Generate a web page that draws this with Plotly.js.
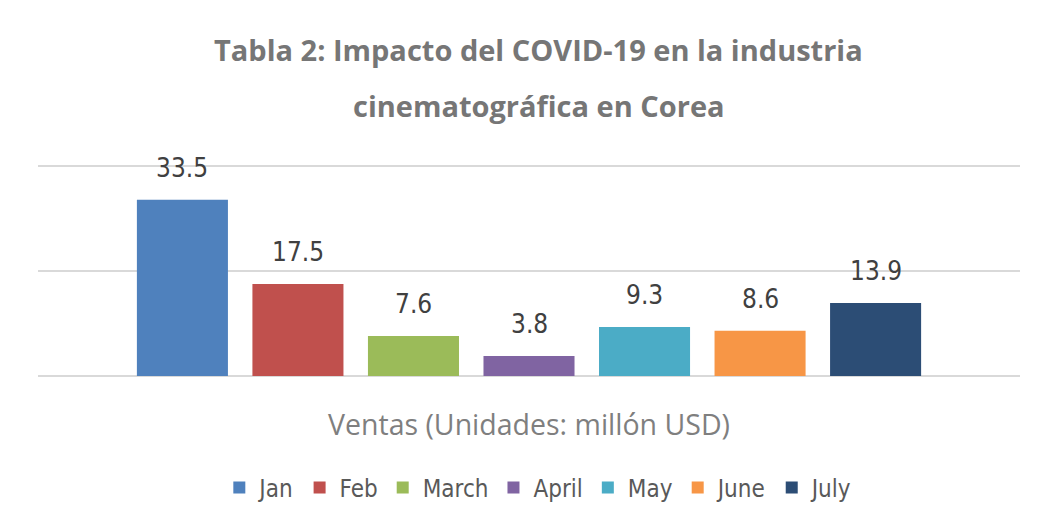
<!DOCTYPE html>
<html>
<head>
<meta charset="utf-8">
<script src="https://cdn.plot.ly/plotly-3.0.1.min.js"></script>
<style>html,body{margin:0;padding:0;background:#fff;}#chart{width:1040px;height:531px;}</style>
</head>
<body>
<div id="chart"></div>
<script>
const months = ['Jan', 'Feb', 'March', 'April', 'May', 'June', 'July'];
const sales = [33.5, 17.5, 7.6, 3.8, 9.3, 8.6, 13.9];
const colors = ['#4F81BD', '#C0504D', '#9BBB59', '#8064A2', '#4BACC6', '#F79646', '#2C4D75'];
const titleLines = ['Tabla 2: Impacto del COVID-19 en la industria', 'cinematográfica en Corea'];
const axisTitle = 'Ventas (Unidades: millón USD)';

const narrow = '"DejaVu Sans Condensed", "Liberation Sans Narrow", sans-serif';
const sans = '"Open Sans", "Noto Sans", sans-serif';

const traces = months.map((m, i) => ({
  type: 'bar',
  name: m,
  x: [m],
  y: [sales[i]],
  marker: {color: colors[i]},
  hoverinfo: 'x+y'
}));

const plotBottom = 376, plotH = 213;
const annotations = months.map((m, i) => ({
  x: m, y: sales[i], xref: 'x', yref: 'y',
  text: String(sales[i]), showarrow: false,
  yanchor: 'middle', yshift: 32,
  font: {family: narrow, size: 26, color: '#404040'}
}));

annotations.push({
  xref: 'paper', yref: 'paper', x: 0.51, y: (plotBottom - 50) / plotH,
  text: '<b>' + titleLines[0] + '</b>', showarrow: false, yanchor: 'middle',
  font: {family: sans, size: 29, color: '#767676'}
});
annotations.push({
  xref: 'paper', yref: 'paper', x: 0.51, y: (plotBottom - 105) / plotH,
  text: '<b>' + titleLines[1] + '</b>', showarrow: false, yanchor: 'middle',
  font: {family: sans, size: 29, color: '#767676'}
});

const layout = {
  width: 1040, height: 531,
  margin: {l: 38, r: 20, t: 163, b: 155},
  paper_bgcolor: '#ffffff', plot_bgcolor: '#ffffff',
  barmode: 'overlay',
  bargap: 0.212,
  showlegend: true,
  legend: {
    orientation: 'h', x: 0.51, xanchor: 'center', y: -0.525, yanchor: 'middle',
    font: {family: narrow, size: 24, color: '#595959'},
    itemclick: false
  },
  xaxis: {
    type: 'category',
    categoryorder: 'array', categoryarray: months,
    range: [-1.25, 7.25],
    showticklabels: false, ticks: '', showgrid: false, zeroline: false, showline: false,
    title: {text: axisTitle, standoff: 39, font: {family: sans, size: 28.5, color: '#7F7F7F'}}
  },
  yaxis: {
    range: [0, 40.5], dtick: 20, tick0: 0,
    showticklabels: false, ticks: '',
    showgrid: true, gridcolor: '#D9D9D9', gridwidth: 2,
    zeroline: true, zerolinecolor: '#D9D9D9', zerolinewidth: 2,
    showline: false
  },
  annotations: annotations
};

Plotly.newPlot('chart', traces, layout, {displayModeBar: false, responsive: false});
</script>
</body>
</html>
